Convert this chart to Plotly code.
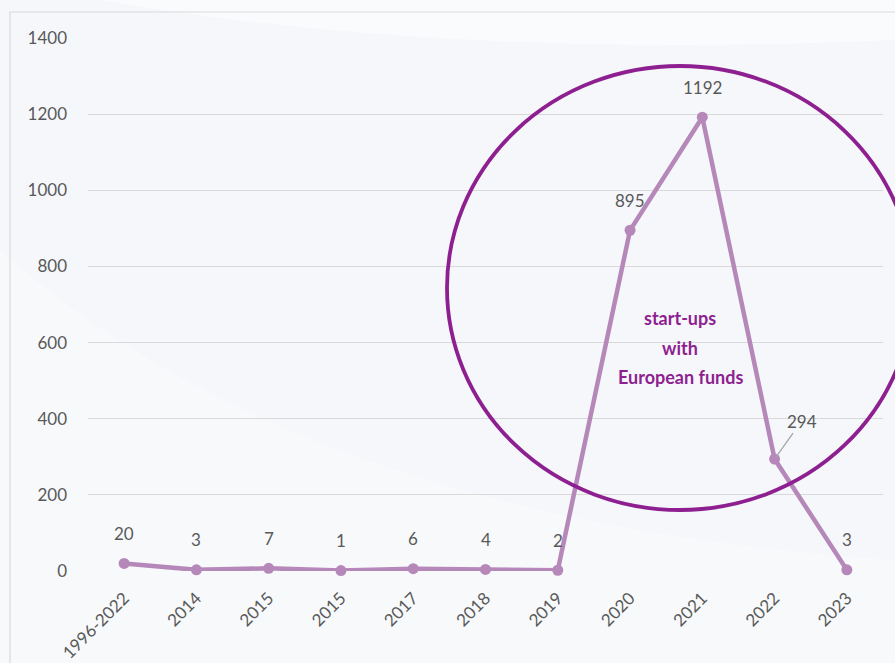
import plotly.graph_objects as go

# Start-ups per year
categories = ["1996-2022", "2014", "2015", "2015", "2017", "2018", "2019",
              "2020", "2021", "2022", "2023"]
startups = [20, 3, 7, 1, 6, 4, 2, 895, 1192, 294, 3]
y_ticks = [0, 200, 400, 600, 800, 1000, 1200, 1400]
callout_lines = ["start-ups", "with", "European funds"]

LINE = "#b588b9"
ACCENT = "#8e1f91"
GREY_TXT = "#595959"
FONT = "Lato"

W, H = 895, 663
L, R, T, B = 88, 12, 38, 92
pw, ph = W - L - R, H - T - B

def px_x(p):
    return (p - L) / pw

def px_y(p):
    return (H - B - p) / ph

xs = list(range(len(categories)))

fig = go.Figure()
fig.add_trace(go.Scatter(
    x=xs, y=startups, mode="lines+markers",
    line=dict(color=LINE, width=4.5),
    marker=dict(color=LINE, size=11),
    cliponaxis=False, hoverinfo="skip", showlegend=False,
))

annotations = []
for x, v in zip(xs, startups):
    if v == 294:
        annotations.append(dict(
            x=x, y=v, xref="x", yref="y", text=str(v), showarrow=True,
            arrowhead=0, arrowwidth=1.3, arrowcolor="#a6a6a6",
            ax=27, ay=-38, standoff=2,
            font=dict(family=FONT, size=17, color=GREY_TXT),
        ))
    else:
        annotations.append(dict(
            x=x, y=v, xref="x", yref="y", text=str(v), showarrow=False,
            yshift=30, font=dict(family=FONT, size=17, color=GREY_TXT),
        ))

# Callout text inside the ellipse
for i, line in enumerate(callout_lines):
    annotations.append(dict(
        x=px_x(680), y=px_y(318 + i * 29.5), xref="paper", yref="paper",
        xanchor="center", yanchor="middle",
        text="<b>" + line + "</b>", showarrow=False,
        font=dict(family=FONT, size=18, color=ACCENT),
    ))

shapes = [
    # faint background sweeps
    dict(type="path", xref="paper", yref="paper", layer="below",
         path=f"M {px_x(100)} {px_y(0)} Q {px_x(450)} {px_y(60)} {px_x(895)} {px_y(40)} "
              f"L {px_x(895)} {px_y(0)} Z",
         fillcolor="rgba(255,255,255,0.5)", line=dict(width=0)),
    dict(type="path", xref="paper", yref="paper", layer="below",
         path=f"M {px_x(0)} {px_y(250)} Q {px_x(300)} {px_y(520)} {px_x(895)} {px_y(560)} "
              f"L {px_x(895)} {px_y(663)} L {px_x(0)} {px_y(663)} Z",
         fillcolor="rgba(255,255,255,0.25)", line=dict(width=0)),
    # chart frame
    dict(type="rect", xref="paper", yref="paper", layer="below",
         x0=px_x(10), x1=px_x(905), y0=px_y(680), y1=px_y(12),
         line=dict(color="#d9d9d9", width=1.2), fillcolor="rgba(0,0,0,0)"),
    # highlight ellipse
    dict(type="circle", xref="paper", yref="paper",
         x0=px_x(447), x1=px_x(913), y0=px_y(510), y1=px_y(66),
         line=dict(color=ACCENT, width=3.8), fillcolor="rgba(0,0,0,0)"),
]

fig.update_layout(
    width=W, height=H,
    margin=dict(l=L, r=R, t=T, b=B, pad=0, autoexpand=False),
    paper_bgcolor="#f5f7fa", plot_bgcolor="rgba(0,0,0,0)",
    font=dict(family=FONT, size=17, color=GREY_TXT),
    annotations=annotations, shapes=shapes,
    xaxis=dict(
        range=[-0.5, len(categories) - 0.5], tickmode="array",
        tickvals=xs, ticktext=categories, tickangle=-45,
        showgrid=False, zeroline=False, showline=False, ticks="",
        ticklabelstandoff=13, automargin=False,
        tickfont=dict(family=FONT, size=17, color=GREY_TXT), fixedrange=True,
    ),
    yaxis=dict(
        range=[0, 1400], tickmode="array", tickvals=y_ticks,
        showgrid=True, gridcolor="#d9d9d9", gridwidth=1.3, zeroline=False,
        showline=False, ticks="", ticklabelstandoff=20, automargin=False,
        tickfont=dict(family=FONT, size=17, color=GREY_TXT), fixedrange=True,
    ),
)

fig.write_html("out.html")
